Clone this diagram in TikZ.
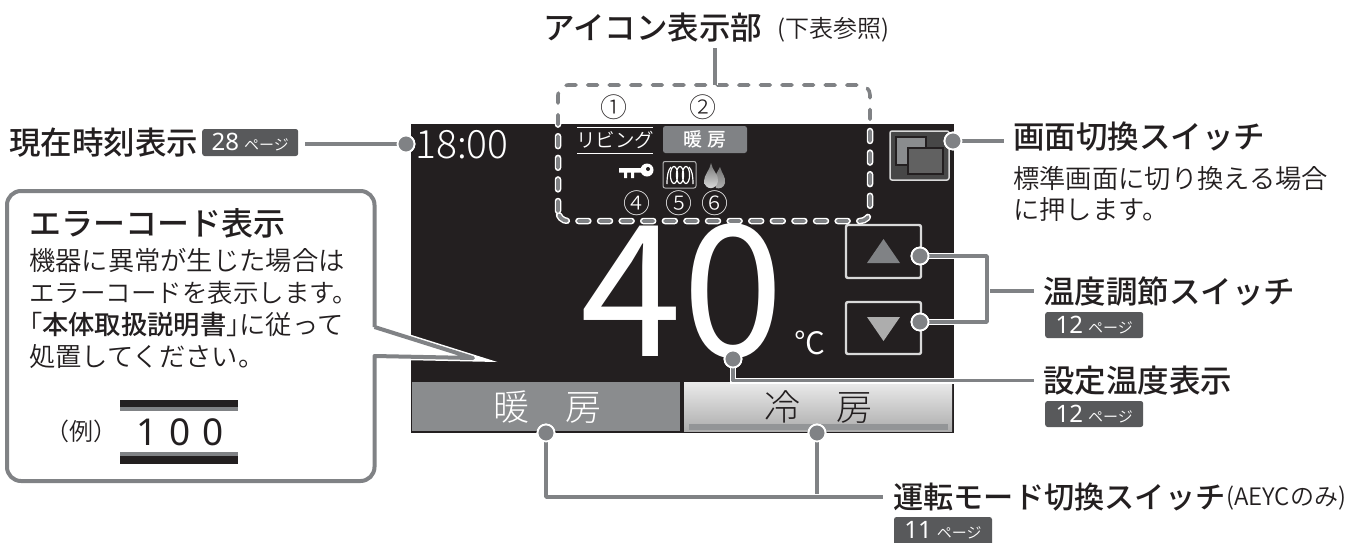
\documentclass[tikz,border=0pt]{standalone}
\usepackage{fontspec}
\setmainfont{Noto Sans CJK JP}
\newfontfamily\lightf{Noto Sans CJK JP Light}
\newfontfamily\demif{Noto Sans CJK JP DemiLight}
\newfontfamily\headf{Noto Sans CJK JP Medium}
\newfontfamily\digf{Noto Sans}
\usetikzlibrary{shadings}
\definecolor{scr}{HTML}{231F20}
\definecolor{ln}{HTML}{808285}
\definecolor{btn}{HTML}{8A8C8E}
\definecolor{bdg}{HTML}{58595B}
\definecolor{txt}{HTML}{231F20}
\newcommand{\fs}[1]{\fontsize{#1}{#1}\selectfont}
\tikzset{
 lbl/.style={anchor=west,inner sep=0pt,text=txt},
 head/.style={lbl,font=\fs{31.5}\headf},
 body/.style={lbl,font=\fs{26.3}\demif},
 num/.style={inner sep=0pt,text=txt,font=\fs{27}\lightf},
 wnum/.style={num,text=white},
 badge/.style={anchor=west,fill=bdg,rounded corners=2.5pt,inner sep=0pt,minimum height=26pt,text=white,font=\fs{24}\digf},
 dot/.style={circle,fill=ln,draw=white,line width=1.8pt,minimum size=17pt,inner sep=0pt},
 conn/.style={draw=ln,line width=3.6pt,line join=round,preaction={draw=white,line width=6pt}},
 sw/.style={draw=#1,line width=2.4pt,rounded corners=2pt},
}
\newcommand{\pg}{\hspace{5pt}{\fs{15}\demif ページ}}
\begin{document}
\begin{tikzpicture}[x=1pt,y=-1pt]
\useasboundingbox (0,0) rectangle (1352,542);
% screen
\fill[scr] (410.5,124) rectangle (954,433);
\node[inner sep=0pt,text=white,font=\fs{39}\lightf,anchor=base] (clock) at (462,158) {18:00};
% big 40
\node[inner sep=0pt,text=white,font=\fs{183}\selectfont,anchor=base] (big) at (682,356) {40};
\node[inner sep=0pt,text=white,font=\fs{31}\demif] (unit) at (810,343) {℃};
% buttons
\fill[btn] (411.5,382) rectangle (680,431);
\shade[top color=white!92!black,bottom color=black!32] (684,382) rectangle (952,431);
\fill[ln!85] (689,424) rectangle (948,430);
\node[inner sep=0pt,text=white,font=\fs{36}\lightf] (bh) at (547.5,407) {暖\hspace{36pt}房};
\node[inner sep=0pt,text=txt,font=\fs{36}\lightf] (bc) at (818.5,407) {冷\hspace{36pt}房};
% small icons
\node[inner sep=0pt,text=white,font=\fs{19.5}\demif] (liv) at (615,140) {リビング};
\draw[white,line width=1pt] (577,127) -- (653,127) (577,153) -- (653,153);
\node[fill=ln,rounded corners=2.5pt,minimum width=84pt,minimum height=27pt,inner sep=0pt,text=white,font=\fs{19}\headf] (dan) at (705,139.5) {暖\hspace{5pt}房};
% key
\fill[white] (619,168) rectangle (642,172.5) (624,172) rectangle (627,178) (631,172) rectangle (634,178);
\fill[white] (647,170) circle (6.5pt);
\fill[scr] (648,169) circle (2pt);
% coil
\draw[draw=white!70!black,line width=1pt,rounded corners=2pt] (663,161.5) rectangle (696,188);
\draw[white,line width=1.2pt] (674,175) ellipse (3.6pt and 8.5pt) (680,175) ellipse (3.6pt and 8.5pt) (686,175) ellipse (3.6pt and 8.5pt);
\draw[white,line width=1.2pt] (667,184) .. controls (667,176) and (668,170) .. (671,167) (693,184) .. controls (693,176) and (692,170) .. (689,167);
% flames
\shade[top color=black!55,bottom color=black!30] (720,167) .. controls (722,174) and (726,177) .. (725,183) .. controls (724,188) and (719,189) .. (716,188) -- (714,178) -- cycle;
\shade[top color=black!55,bottom color=white!90!black] (711,163) .. controls (712,170) and (719,175) .. (718,181) .. controls (717,190) and (705,191) .. (704,181) .. controls (704,175) and (710,170) .. (711,163) -- cycle;
% switch icon
\draw[draw=white!85!black,fill=black!72,line width=1.5pt,rounded corners=2pt] (890,131) rectangle (949,180);
\draw[draw=scr,fill=btn,line width=1.6pt] (896,137) rectangle (926,165);
\draw[draw=scr,fill=black!62,line width=2pt] (908,148) rectangle (943,174);
% up/down
\draw[sw=white!85!black] (846,225) rectangle (921,278);
\draw[sw=white!85!black] (846,302) rectangle (921,354);
\fill[ln] (867,263) -- (883.5,239) -- (900,263) -- cycle;
\fill[white!68!black] (867,317) -- (900,317) -- (883.5,341) -- cycle;
% dashed frame
\coordinate (fr) at (715,85);
\coordinate (frtop) at (715,48);
\draw[white,line width=6.5pt,line cap=round,dash pattern=on 10pt off 11.6pt,rounded corners=10pt] (558,221) rectangle (870,85);
\draw[ln,line width=3.6pt,line cap=round,dash pattern=on 10pt off 11.6pt,rounded corners=10pt] (558,221) rectangle (870,85);
\draw[conn] (frtop) -- (fr);
% numbers
\node[num] (n1) at (614,107) {①};
\node[num] (n2) at (703,107) {②};
\node[wnum] (n4) at (637,203) {④};
\node[wnum] (n5) at (679,203) {⑤};
\node[wnum] (n6) at (715,203) {⑥};
% callout
\draw[draw=ln,line width=4pt,fill=white,line join=round,preaction={draw=white,line width=7pt}]
 (374.5,327) -- (473,358) -- (374.5,356)
 [rounded corners=14pt] -- (374.5,481) -- (7,481) -- (7,191) -- (374.5,191) -- (374.5,327);
\node[head,font=\fs{32}\headf] (ehead) at (29,223) {エラーコード表示};
\node[body] (e1) at (29,260) {機器に異常が生じた場合は};
\node[body,font=\fs{25.5}\demif] (e2) at (29,293) {エラーコードを表示します。};
\node[body] (e3) at (29,325) {\hspace{-0.5em}「{\headf 本体取扱説明書}」\hspace{-0.5em}に従って};
\node[body] (e4) at (29,357) {処置してください。};
\node[lbl,font=\fs{24}\demif] (ex) at (45,431) {（例）};
\fill[scr] (120,400) rectangle (238,407);
\fill[ln] (120,407) rectangle (238,411);
\fill[ln] (120,452) rectangle (238,456);
\fill[scr] (120,456) rectangle (238,464);
\node[inner sep=0pt,text=txt,font=\fs{37}\digf,anchor=base] (code) at (180,445) {1\hspace{12pt}0\hspace{12pt}0};
% labels
\node[head] (icon) at (543,28) {アイコン表示部};
\node[lbl,font=\fs{24}\demif] (iconn) at (777,30) {(下表参照)};
\node[head] (now) at (9,143) {現在時刻表示};
\node[badge,minimum width=96pt,minimum height=27pt] (b28) at (202,142.5) {28\pg};
\node[head] (scrsw) at (1013,137) {画面切換スイッチ};
\node[body] (s1) at (1013,178) {標準画面に切り換える場合};
\node[body] (s2) at (1013,209) {に押します。};
\node[head] (temp) at (1043,292) {温度調節スイッチ};
\node[badge,minimum width=98pt] (b12a) at (1045,325) {12\pg};
\node[head] (set) at (1043,381) {設定温度表示};
\node[badge,minimum width=98pt] (b12b) at (1045,414) {12\pg};
\node[head,font=\fs{30.2}\headf] (mode) at (893,497) {運転モード切換スイッチ};
\node[lbl,font=\fs{24}\demif] (aeyc) at (1226,498) {(AEYCのみ)};
\fill[bdg,rounded corners=2.5pt] (894,517) rectangle (992,550);
\node[inner sep=0pt,text=white,font=\fs{24}\digf,anchor=base] (b11) at (943,538) {11\pg};
% connectors
\coordinate (nowend) at (305,144);
\node[dot] (dclock) at (406,144) {};
\draw[conn] (nowend) -- (dclock);
\node[dot] (dsw) at (953,141) {};
\coordinate (swend) at (1004,141);
\draw[conn] (dsw) -- (swend);
\node[dot] (dup) at (920,256) {};
\node[dot] (ddn) at (920,322) {};
\coordinate (tj) at (987,291);
\coordinate (tend) at (1034,291);
\draw[conn] (tj) -- (tend);
\draw[conn] (dup) -| (tj) |- (ddn);
\node[dot] (dset) at (733,359) {};
\coordinate (setend) at (1034,380.5);
\draw[conn] (dset) |- (setend);
\node[dot] (dh) at (546,433) {};
\node[dot] (dc) at (817,433) {};
\coordinate (mj) at (817,497);
\coordinate (mend) at (883,497);
\draw[conn] (dc) -- (mj);
\draw[conn] (dh) |- (mend);
\foreach \d in {dclock,dsw,dup,ddn,dset,dh,dc} \node[dot] at (\d) {};
\end{tikzpicture}
\end{document}
